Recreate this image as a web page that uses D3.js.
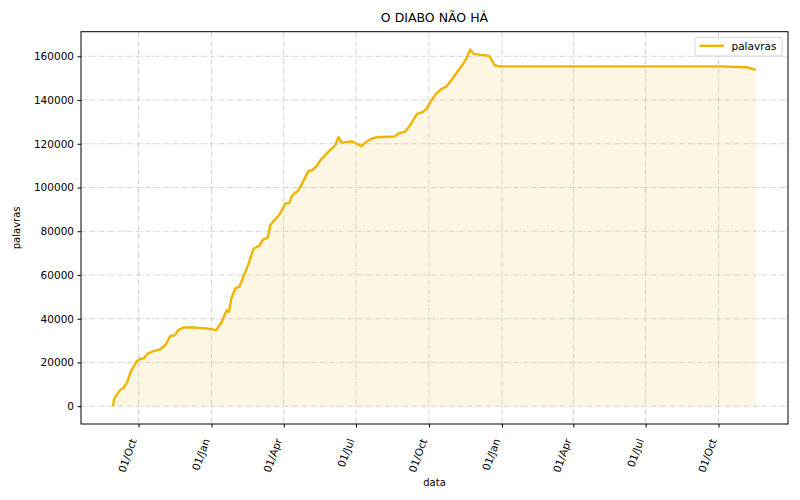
<!DOCTYPE html>
<html>
<head>
<meta charset="utf-8">
<script src="https://cdn.jsdelivr.net/npm/d3@7"></script>
<style>
  body { margin: 0; background: #fff; }
  text { font-family: "DejaVu Sans", sans-serif; fill: #000; }
</style>
</head>
<body>
<div id="chart"></div>
<script>
// data
const dates = [
  "2019-08-30","2019-08-31","2019-09-02","2019-09-08","2019-09-12","2019-09-17","2019-09-21",
  "2019-09-25","2019-09-29","2019-10-03","2019-10-08","2019-10-12","2019-10-18","2019-10-28",
  "2019-11-04","2019-11-10","2019-11-16","2019-11-20","2019-11-27","2019-12-09","2019-12-26",
  "2020-01-07","2020-01-14","2020-01-20","2020-01-23","2020-01-26","2020-01-31","2020-02-05",
  "2020-02-10","2020-02-16","2020-02-23","2020-03-01","2020-03-06","2020-03-12","2020-03-15",
  "2020-03-19","2020-03-26","2020-04-03","2020-04-08","2020-04-11","2020-04-15","2020-04-19",
  "2020-04-24","2020-05-02","2020-05-08","2020-05-13","2020-05-17","2020-05-23","2020-05-29",
  "2020-06-05","2020-06-09","2020-06-13","2020-06-26","2020-07-02","2020-07-08","2020-07-12",
  "2020-07-18","2020-07-27","2020-08-19","2020-08-23","2020-09-01","2020-09-07","2020-09-16",
  "2020-09-23","2020-09-28","2020-10-04","2020-10-10","2020-10-17","2020-10-23","2020-10-29",
  "2020-11-04","2020-11-13","2020-11-17","2020-11-22","2020-11-26","2020-12-16","2020-12-23",
  "2021-01-02","2021-10-02","2021-11-05","2021-11-17"
];
const palavras = [
  0, 2900, 4400, 7500, 8200, 11200, 15800,
  18100, 20700, 21600, 21900, 23900, 24900, 26000,
  28000, 32100, 32500, 34800, 36000, 36000, 35600,
  34800, 38600, 43900, 43200, 49300, 53900, 54600,
  59100, 64500, 72100, 73300, 76200, 77100, 82700,
  84600, 87300, 92600, 92900, 96000, 97500, 98400,
  101800, 107500, 108200, 110100, 112400, 114700, 117000,
  119300, 123000, 120500, 121100, 120000, 118900, 120300,
  121900, 123000, 123400, 124600, 125600, 128400, 133700,
  134500, 136000, 139800, 142900, 145100, 146200, 148900,
  152000, 156500, 158800, 163100, 161100, 160200, 155800,
  155400, 155400, 155000, 153800
];
const yTicks = [0, 20000, 40000, 60000, 80000, 100000, 120000, 140000, 160000];
const title = "O DIABO NÃO HÁ";
const seriesName = "palavras";

const W = 800, H = 500;
const margin = {top: 31.7, right: 12, bottom: 76, left: 81};
const width = W - margin.left - margin.right;
const height = H - margin.top - margin.bottom;
const lineColor = "#f0b400";

const parse = d3.timeParse("%Y-%m-%d");
const data = dates.map((d, i) => ({date: parse(d), v: palavras[i]}));

const svg = d3.select("#chart").append("svg")
  .attr("width", W).attr("height", H);
const g = svg.append("g")
  .attr("transform", `translate(${margin.left},${margin.top})`);

// matplotlib-like 5% margins
const xExt = d3.extent(data, d => d.date);
const xPad = (xExt[1] - xExt[0]) * 0.05;
const x = d3.scaleTime()
  .domain([new Date(+xExt[0] - xPad), new Date(+xExt[1] + xPad)])
  .range([0, width]);
const yMax = d3.max(palavras);
const y = d3.scaleLinear()
  .domain([-0.05 * yMax, yMax * 1.05])
  .range([height, 0]);

const xTicks = d3.timeMonth.every(3).range(x.domain()[0], x.domain()[1]);

// fill under curve
g.append("path")
  .datum(data)
  .attr("fill", "#fdf6e2")
  .attr("d", d3.area().x(d => x(d.date)).y0(y(0)).y1(d => y(d.v)));

// grid
const dash = "5,1.6,1,1.6";
g.append("g").selectAll("line").data(xTicks).join("line")
  .attr("x1", d => x(d)).attr("x2", d => x(d))
  .attr("y1", 0).attr("y2", height)
  .attr("stroke", "#c8c8c8").attr("stroke-width", 0.8)
  .attr("stroke-dasharray", dash);
g.append("g").selectAll("line").data(yTicks).join("line")
  .attr("x1", 0).attr("x2", width)
  .attr("y1", d => y(d)).attr("y2", d => y(d))
  .attr("stroke", "#c8c8c8").attr("stroke-width", 0.8)
  .attr("stroke-dasharray", dash);

// line
g.append("path")
  .datum(data)
  .attr("fill", "none")
  .attr("stroke", lineColor)
  .attr("stroke-width", 2.4)
  .attr("stroke-linejoin", "round")
  .attr("d", d3.line().x(d => x(d.date)).y(d => y(d.v)));

// axes
const xAxis = g.append("g")
  .attr("transform", `translate(0,${height})`)
  .call(d3.axisBottom(x).tickValues(xTicks).tickFormat(d3.timeFormat("%d/%b")).tickSizeOuter(0).tickSize(3.5));
xAxis.select(".domain").remove();
xAxis.selectAll("text")
  .style("font-size", "10.5px")
  .attr("x", 0).attr("y", 0)
  .attr("text-anchor", "end")
  .attr("dy", "0.35em")
  .attr("transform", "translate(-5.5,15) rotate(-70)");

const yAxis = g.append("g")
  .call(d3.axisLeft(y).tickValues(yTicks).tickFormat(d3.format("d")).tickSizeOuter(0).tickSize(3.5).tickPadding(3.5));
yAxis.select(".domain").remove();
yAxis.selectAll("text").style("font-size", "10.5px");

// frame
g.append("rect")
  .attr("width", width).attr("height", height)
  .attr("fill", "none").attr("stroke", "#000").attr("stroke-width", 1);

// title and labels
svg.append("text")
  .attr("x", margin.left + width / 2).attr("y", 22)
  .attr("text-anchor", "middle").style("font-size", "12.5px")
  .text(title);
svg.append("text")
  .attr("x", margin.left + width / 2).attr("y", 486)
  .attr("text-anchor", "middle").style("font-size", "10px")
  .text("data");
svg.append("text")
  .attr("transform", `translate(20,${margin.top + height / 2}) rotate(-90)`)
  .attr("text-anchor", "middle").style("font-size", "10px")
  .text("palavras");

// legend
const lg = svg.append("g").attr("transform", "translate(695,37.3)");
lg.append("rect")
  .attr("width", 87).attr("height", 18.7).attr("rx", 2)
  .attr("fill", "#fff").attr("fill-opacity", 0.8)
  .attr("stroke", "#d6d6d6");
lg.append("line")
  .attr("x1", 4.5).attr("x2", 29).attr("y1", 8.5).attr("y2", 8.5)
  .attr("stroke", lineColor).attr("stroke-width", 2.4);
lg.append("text")
  .attr("x", 36.5).attr("y", 12.5).style("font-size", "10.5px")
  .text(seriesName);
</script>
</body>
</html>
